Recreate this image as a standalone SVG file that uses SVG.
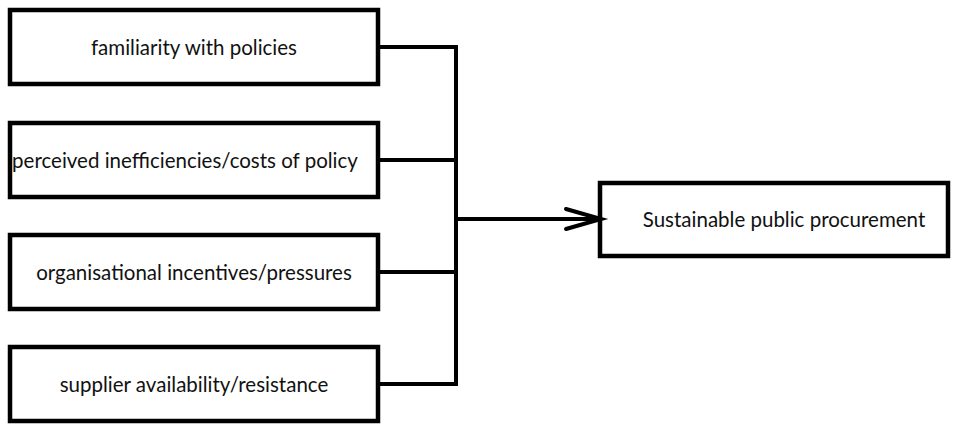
<svg xmlns="http://www.w3.org/2000/svg" width="957" height="424" viewBox="0 0 957 424">
<style>
.box{fill:#fff;stroke:#000;stroke-width:4.5}
.lbl{font-family:"Lato","Open Sans",sans-serif;font-size:20.5px;fill:#111;text-anchor:middle;dominant-baseline:central}
.con{fill:none;stroke:#000;stroke-width:4}
</style>
<rect width="957" height="424" fill="#fff"/>
<g id="n1"><rect class="box" x="10" y="10" width="368" height="74"/><text class="lbl" x="194" y="47">familiarity with policies</text></g>
<g id="n2"><rect class="box" x="10" y="123" width="368" height="74"/><text class="lbl" x="185" y="160">perceived inefficiencies/costs of policy</text></g>
<g id="n3"><rect class="box" x="10" y="235" width="368" height="74"/><text class="lbl" x="194" y="272">organisational incentives/pressures</text></g>
<g id="n4"><rect class="box" x="10" y="347" width="368" height="74"/><text class="lbl" x="194" y="384">supplier availability/resistance</text></g>
<g id="n5"><rect class="box" x="600" y="183" width="348" height="73"/><text class="lbl" x="784" y="219">Sustainable public procurement</text></g>
<g id="connectors">
<path class="con" d="M380 47H456M380 160H456M380 272H456M380 384H456M456 45V386"/>
<path class="con" d="M456 219H601"/>
<path class="con" d="M566 209L601 219L566 229" stroke-linecap="round" stroke-linejoin="miter"/>
</g>
</svg>
